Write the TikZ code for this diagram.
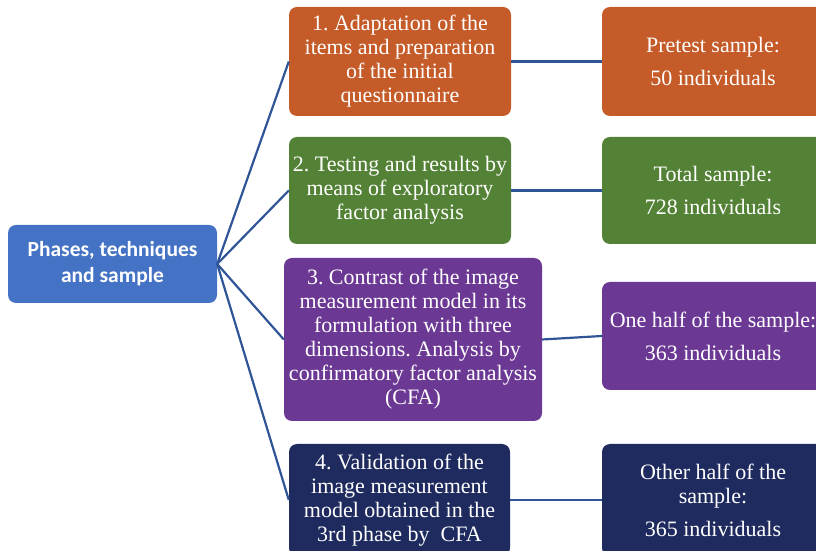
\documentclass[tikz,border=0pt]{standalone}
\usepackage{fontspec}
\setmainfont{Liberation Serif}
\newfontfamily\rootfont{Carlito}
\definecolor{cblue}{HTML}{4472C4}
\definecolor{corange}{HTML}{C45B28}
\definecolor{cgreen}{HTML}{538135}
\definecolor{cpurple}{HTML}{6B3894}
\definecolor{cnavy}{HTML}{1F2B5E}
\definecolor{cline}{HTML}{2F5597}
\frenchspacing
\begin{document}
\begin{tikzpicture}[x=1pt,y=1pt,
  box/.style={rounded corners=8pt, text=white, align=center, inner sep=0pt,
    font=\fontsize{22}{24}\selectfont},
  rootbox/.style={box, fill=cblue, font=\rootfont\bfseries\fontsize{21.5}{26}\selectfont},
  link/.style={draw=cline, line width=2.2pt}]
\useasboundingbox (0,0) rectangle (816,551);
\node[rootbox, minimum width=209, minimum height=78] (root) at (112.5,287) {Phases, techniques\\and sample};
\node[box, fill=corange, minimum width=222, minimum height=109] (b1) at (400,489.5) {1. Adaptation of the\\items and preparation\\of the initial\\questionnaire};
\node[box, fill=corange, minimum width=222, minimum height=109] (r1) at (713,489.5) {Pretest sample:\\[9pt]50 individuals};
\node[box, fill=cgreen, minimum width=222, minimum height=107] (b2) at (400,360.5) {2. Testing and results by\\means of exploratory\\factor analysis};
\node[box, fill=cgreen, minimum width=222, minimum height=107] (r2) at (713,360.5) {Total sample:\\[9pt]728 individuals};
\node[box, fill=cpurple, minimum width=258, minimum height=163] (b3) at (413,211.5) {3. Contrast of the image\\measurement model in its\\formulation with three\\dimensions. Analysis by\\confirmatory factor analysis\\(CFA)};
\node[box, fill=cpurple, minimum width=222, minimum height=108] (r3) at (713,215) {One half of the sample:\\[9pt]363 individuals};
\node[box, fill=cnavy, minimum width=221, minimum height=112] (b4) at (399.5,51) {4. Validation of the\\image measurement\\model obtained in the\\3rd phase by\ \ CFA};
\node[box, fill=cnavy, minimum width=222, minimum height=112] (r4) at (713,51) {Other half of the\\sample:\\[9pt]365 individuals};
\foreach \b in {b1,b2,b3,b4} \draw[link] (root.east) -- (\b.west);
\draw[link] (b1.east) -- (r1.west);
\draw[link] (b2.east) -- (r2.west);
\draw[link] (b3.east) -- (r3.west);
\draw[link] (b4.east) -- (r4.west);
\end{tikzpicture}
\end{document}
